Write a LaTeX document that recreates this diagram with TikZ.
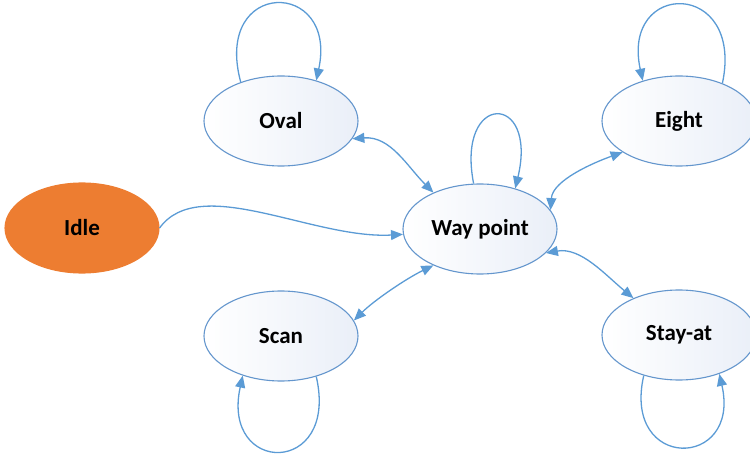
\documentclass[tikz,border=0pt]{standalone}
\usepackage{fontspec}
\setmainfont{Carlito}
\usetikzlibrary{shapes.geometric,arrows.meta}
\definecolor{lineblue}{RGB}{91,155,213}
\definecolor{edgeblue}{RGB}{100,150,205}
\definecolor{fillblue}{RGB}{234,239,248}
\definecolor{idleorange}{RGB}{237,125,49}
\tikzset{
  state/.style={ellipse, draw=edgeblue, line width=1.1pt, minimum width=154pt, minimum height=90pt,
    inner sep=0pt, left color=white, right color=fillblue, font=\fontsize{23}{26}\selectfont\bfseries},
  idlestate/.style={ellipse, draw=idleorange, fill=idleorange, line width=1.1pt, minimum width=154pt,
    minimum height=90pt, inner sep=0pt, font=\fontsize{23}{26}\selectfont\bfseries},
  conn/.style={draw=lineblue, line width=1.3pt, -{Triangle[length=12pt,width=10pt]}},
  biconn/.style={draw=lineblue, line width=1.3pt, {Triangle[length=12pt,width=10pt]}-{Triangle[length=12pt,width=10pt]}},
}
\begin{document}
\begin{tikzpicture}[x=1pt,y=1pt]
\useasboundingbox (0,0) rectangle (750,453);
\node[idlestate] (idle) at (82,225) {Idle};
\node[state] (oval) at (281,332) {Oval};
\node[state] (wp) at (480,224) {Way point};
\node[state] (eight) at (679,332) {Eight};
\node[state] (scan) at (281,117) {Scan};
\node[state] (stay) at (679,118) {Stay-at};

% self loops
\draw[conn] (oval.136) .. controls +(-28,104) and +(22,102) .. (oval.49);
\draw[conn] (wp.98) .. controls +(-18,92) and +(23,97) .. (wp.49);
\draw[conn] (eight.41) .. controls +(22,104) and +(-22,101) .. (eight.132);
\draw[conn] (scan.-49) .. controls +(23,-100) and +(-22,-100) .. (scan.226);
\draw[conn] (stay.229) .. controls +(-22,-96) and +(22,-96) .. (stay.316);

% connections
\draw[conn] (idle.east) .. controls +(40,55) and +(-90,-5) .. (wp.184);
\draw[biconn] (oval.-14) .. controls +(38,3) and +(-26,26) .. (wp.142);
\draw[biconn] (wp.15) .. controls +(2,30) and +(-28,-10) .. (eight.209);
\draw[biconn] (scan.12) .. controls +(20,20) and +(-27,-13) .. (wp.218);
\draw[biconn] (wp.-20) .. controls +(35,6) and +(-28,23) .. (stay.141);
\end{tikzpicture}
\end{document}
